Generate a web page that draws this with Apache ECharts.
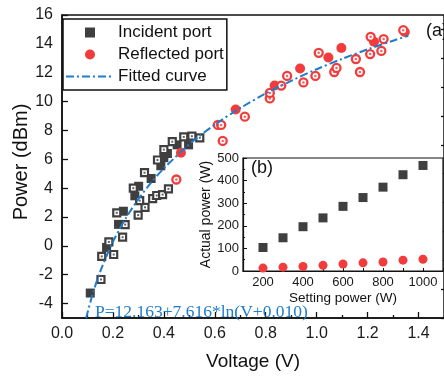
<!DOCTYPE html>
<html>
<head>
<meta charset="utf-8">
<script src="https://cdn.jsdelivr.net/npm/echarts@6/dist/echarts.min.js"></script>
<style>
html,body{margin:0;padding:0;background:#fff;}
#chart{width:444px;height:376px;}
</style>
</head>
<body>
<div id="chart"></div>
<script>
// ---- Main plot data (a) ----
const incidentFilledV = [0.111, 0.175, 0.222, 0.241, 0.286, 0.301, 0.350, 0.388, 0.400, 0.414, 0.452, 0.497];
const incidentFilledP = [-3.27, -0.11, 1.49, 2.40, 3.47, 4.13, 4.67, 5.55, 6.11, 6.40, 7.00, 7.00];
const incidentHollowV = [0.153, 0.156, 0.184, 0.203, 0.238, 0.248, 0.215, 0.299, 0.326, 0.305, 0.280, 0.356, 0.372, 0.395, 0.418, 0.324, 0.375, 0.400, 0.433, 0.478, 0.510, 0.541];
const incidentHollowP = [-2.33, -0.73, 0.27, -0.60, 0.60, 1.47, 2.29, 2.13, 2.67, 3.13, 4.00, 3.27, 3.49, 3.55, 3.95, 5.07, 5.95, 6.67, 7.22, 7.55, 7.60, 7.49];
const reflectedFilledV = [0.467, 0.682, 0.835, 0.935, 1.046, 1.097, 1.225, 1.346];
const reflectedFilledP = [6.45, 9.45, 11.11, 12.29, 13.05, 13.71, 14.15, 14.82];
const reflectedHollowV = [0.449, 0.612, 0.625, 0.631, 0.718, 0.816, 0.816, 0.861, 0.884, 0.948, 0.995, 1.008, 1.069, 1.078, 1.154, 1.170, 1.210, 1.212, 1.254, 1.263, 1.340];
const reflectedHollowP = [4.60, 8.38, 8.38, 7.27, 8.95, 10.22, 10.60, 11.11, 11.78, 11.33, 11.78, 13.38, 12.05, 12.33, 12.95, 12.05, 13.29, 14.49, 13.51, 14.33, 14.95];
const fitV = [0.095, 0.10, 0.12, 0.15, 0.20, 0.25, 0.30, 0.35, 0.40, 0.50, 0.60, 0.70, 0.80, 0.90, 1.00, 1.10, 1.20, 1.30, 1.36];
const fitP = [-5.00, -4.65, -3.37, -1.79, 0.28, 1.90, 3.24, 4.38, 5.37, 7.04, 8.40, 9.55, 10.56, 11.44, 12.24, 12.96, 13.62, 14.22, 14.56];
const mainXLabels = [0, 0.2, 0.4, 0.6, 0.8, 1.0, 1.2, 1.4];
const mainXMinor = [0.1, 0.3, 0.5, 0.7, 0.9, 1.1, 1.3];
const mainYLabels = [-4, -2, 0, 2, 4, 6, 8, 10, 12, 14, 16];
const mainYMinor = [-5, -3, -1, 1, 3, 5, 7, 9, 11, 13, 15];

// ---- Inset data (b) ----
const settingPower = [200, 300, 400, 500, 600, 700, 800, 900, 1000];
const incidentActual = [104, 147, 196, 235, 286, 325, 371, 426, 467];
const incidentErr = [8, 6, 6, 6, 7, 8, 7, 9, 12];
const reflectedActual = [13, 17, 20, 25, 31, 36, 40, 48, 52];
const insetXLabels = [200, 400, 600, 800, 1000];

const zip = (a, b) => a.map((v, i) => [v, b[i]]);
const FONT = 'Liberation Sans, Arial, sans-serif';
const GRAY = '#3f3f3f';
const RED = '#f23c3c';
const BLUE = '#1f7ccc';

const chart = echarts.init(document.getElementById('chart'), null, {renderer: 'canvas'});

const option = {
  animation: false,
  backgroundColor: '#fff',
  textStyle: {fontFamily: FONT},
  legend: {
    orient: 'vertical',
    left: 63, top: 19,
    padding: [5, 3, 5, 2],
    itemGap: 5,
    itemWidth: 48,
    itemHeight: 10,
    symbolKeepAspect: true,
    borderColor: '#111', borderWidth: 1.5,
    backgroundColor: '#fff',
    textStyle: {fontSize: 17, color: '#111', fontFamily: FONT, padding: [0, 0, 0, -1]},
    data: [
      {name: 'Incident port', icon: 'path://M0,0L10,0L10,10L0,10Z'},
      {name: 'Reflected port', icon: 'circle'},
      {name: 'Fitted curve', itemStyle: {opacity: 0}}
    ]
  },
  grid: [
    {left: 62, top: 15, width: 391, height: 315, show: true, borderColor: '#111', borderWidth: 1.5, backgroundColor: 'transparent'},
    {left: 243, top: 158, width: 200, height: 113, show: true, borderColor: '#111', borderWidth: 1.2, backgroundColor: '#fff', z: 5}
  ],
  xAxis: [
    {gridIndex: 0, type: 'value', min: 0, max: 1.5, interval: 0.1, position: 'bottom',
     axisLine: {onZero: false, lineStyle: {color: '#111', width: 1.5}},
     axisTick: {inside: true, length: 6, customValues: mainXLabels, lineStyle: {color: '#111', width: 1.3}},
     axisLabel: {customValues: mainXLabels, fontSize: 16, color: '#1a1a1a', margin: 8, formatter: v => v.toFixed(1)},
     splitLine: {show: false},
     name: 'Voltage (V)', nameLocation: 'middle', nameGap: 34, nameTextStyle: {fontSize: 19, color: '#111'}},
    {gridIndex: 0, type: 'value', min: 0, max: 1.5, interval: 0.1, position: 'bottom',
     axisLine: {show: false, onZero: false},
     axisTick: {inside: true, length: 3, customValues: mainXMinor, lineStyle: {color: '#111', width: 1.3}},
     axisLabel: {show: false}, splitLine: {show: false}},
    {gridIndex: 1, type: 'value', min: 100, max: 1100, interval: 100,
     axisLine: {onZero: false, lineStyle: {color: '#111', width: 1.2}},
     axisTick: {inside: true, length: 3, lineStyle: {color: '#111'}},
     axisLabel: {customValues: insetXLabels, fontSize: 13, color: '#1a1a1a', margin: 5, formatter: v => String(v)},
     splitLine: {show: false},
     name: 'Setting power (W)', nameLocation: 'middle', nameGap: 20, nameTextStyle: {fontSize: 13.5, color: '#111'}, z: 6}
  ],
  yAxis: [
    {gridIndex: 0, type: 'value', min: -5, max: 16, interval: 1,
     axisLine: {onZero: false, lineStyle: {color: '#111', width: 1.5}},
     axisTick: {inside: true, length: 6, customValues: mainYLabels, lineStyle: {color: '#111', width: 1.3}},
     axisLabel: {customValues: mainYLabels, fontSize: 16, color: '#1a1a1a', margin: 9},
     splitLine: {show: false}},
    {gridIndex: 0, type: 'value', min: -5, max: 16, interval: 1,
     axisLine: {show: false, onZero: false},
     axisTick: {inside: true, length: 3, customValues: mainYMinor, lineStyle: {color: '#111', width: 1.3}},
     axisLabel: {show: false}, splitLine: {show: false}},
    {gridIndex: 1, type: 'value', min: 0, max: 500, interval: 100,
     axisLine: {onZero: false, lineStyle: {color: '#111', width: 1.2}},
     axisTick: {inside: true, length: 4, lineStyle: {color: '#111'}},
     minorTick: {show: true, splitNumber: 2, length: 2, lineStyle: {color: '#111'}},
     axisLabel: {fontSize: 13, color: '#1a1a1a', margin: 4},
     splitLine: {show: false},
     name: 'Actual power (W)', nameLocation: 'middle', nameGap: 27, nameTextStyle: {fontSize: 14, color: '#111'}, z: 6}
  ],
  graphic: [
    {type: 'text', x: 21, y: 162, rotation: Math.PI / 2, z: 10, style: {text: 'Power (dBm)', font: '20px ' + FONT, fill: '#111', align: 'center', verticalAlign: 'middle'}},
    {type: 'text', left: 95, top: 303, z: 10, style: {text: 'P=12.163+7.616*ln(V+0.010)', font: '17.5px "Liberation Serif", "Times New Roman", serif', fill: BLUE}},
    {type: 'text', left: 426, top: 22, z: 10, style: {text: '(a)', font: '18px ' + FONT, fill: '#111'}},
    {type: 'text', left: 251, top: 159, z: 10, style: {text: '(b)', font: '18px ' + FONT, fill: '#111'}}
  ],
  series: [
    {name: 'Incident port', type: 'scatter', xAxisIndex: 0, yAxisIndex: 0, symbol: 'rect', symbolSize: 9,
     itemStyle: {color: GRAY, opacity: 1}, data: zip(incidentFilledV, incidentFilledP), z: 3},
    {name: 'Incident port', type: 'scatter', xAxisIndex: 0, yAxisIndex: 0, symbol: 'rect', symbolSize: 7,
     itemStyle: {color: '#fff', borderColor: GRAY, borderWidth: 2.2, opacity: 1}, data: zip(incidentHollowV, incidentHollowP), z: 3},
    {name: 'Incident port', type: 'scatter', xAxisIndex: 0, yAxisIndex: 0, symbol: 'rect', symbolSize: 2,
     itemStyle: {color: GRAY}, data: zip(incidentHollowV, incidentHollowP), z: 3, silent: true},
    {name: 'Reflected port', type: 'scatter', xAxisIndex: 0, yAxisIndex: 0, symbol: 'circle', symbolSize: 10,
     itemStyle: {color: RED, opacity: 1}, data: zip(reflectedFilledV, reflectedFilledP), z: 3},
    {name: 'Reflected port', type: 'scatter', xAxisIndex: 0, yAxisIndex: 0, symbol: 'circle', symbolSize: 8,
     itemStyle: {color: '#fff', borderColor: RED, borderWidth: 2.3, opacity: 1}, data: zip(reflectedHollowV, reflectedHollowP), z: 3},
    {name: 'Reflected port', type: 'scatter', xAxisIndex: 0, yAxisIndex: 0, symbol: 'circle', symbolSize: 2.5,
     itemStyle: {color: RED}, data: zip(reflectedHollowV, reflectedHollowP), z: 3, silent: true},
    {name: 'Fitted curve', type: 'line', xAxisIndex: 0, yAxisIndex: 0, symbol: 'none', smooth: 0.3,
     lineStyle: {color: BLUE, width: 2, type: [8, 3, 2, 3]}, itemStyle: {color: BLUE},
     data: zip(fitV, fitP), z: 4},
    // inset
    {name: 'inset-err', type: 'custom', xAxisIndex: 2, yAxisIndex: 2, z: 7,
     data: settingPower.map((s, i) => [s, incidentActual[i] - incidentErr[i], incidentActual[i] + incidentErr[i]]),
     renderItem: (params, api) => {
       const lo = api.coord([api.value(0), api.value(1)]);
       const hi = api.coord([api.value(0), api.value(2)]);
       const w = 2.5;
       const st = {stroke: '#222', lineWidth: 1};
       return {type: 'group', children: [
         {type: 'line', shape: {x1: lo[0], y1: lo[1], x2: hi[0], y2: hi[1]}, style: st},
         {type: 'line', shape: {x1: lo[0] - w, y1: lo[1], x2: lo[0] + w, y2: lo[1]}, style: st},
         {type: 'line', shape: {x1: hi[0] - w, y1: hi[1], x2: hi[0] + w, y2: hi[1]}, style: st}
       ]};
     }},
    {name: 'inset-incident', type: 'scatter', xAxisIndex: 2, yAxisIndex: 2, symbol: 'rect', symbolSize: 9, z: 8,
     itemStyle: {color: GRAY, opacity: 1}, data: zip(settingPower, incidentActual)},
    {name: 'inset-reflected', type: 'scatter', xAxisIndex: 2, yAxisIndex: 2, symbol: 'circle', symbolSize: 9, z: 8,
     itemStyle: {color: RED, opacity: 1}, data: zip(settingPower, reflectedActual)}
  ]
};
chart.setOption(option);
</script>
</body>
</html>
